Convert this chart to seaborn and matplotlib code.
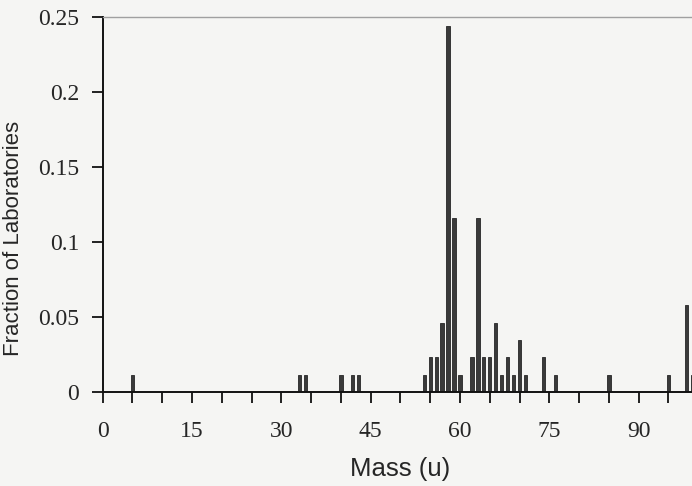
import numpy as np
import pandas as pd
import seaborn as sns
import matplotlib
matplotlib.use("Agg")
import matplotlib.pyplot as plt
from matplotlib.ticker import MultipleLocator, FormatStrFormatter

# mass (u) reported and fraction of laboratories reporting it
mass = [5, 33, 34, 40, 42, 43, 54, 55, 56, 57, 58, 59, 60, 62, 63, 64, 65,
        66, 67, 68, 69, 70, 71, 74, 76, 85, 95, 98, 99]
fraction = [0.0116, 0.0116, 0.0116, 0.0116, 0.0116, 0.0116, 0.0116, 0.0233,
            0.0233, 0.0465, 0.2442, 0.1163, 0.0116, 0.0233, 0.1163, 0.0233,
            0.0233, 0.0465, 0.0116, 0.0233, 0.0116, 0.0349, 0.0116, 0.0233,
            0.0116, 0.0116, 0.0116, 0.0581, 0.0116]

df = pd.DataFrame({"mass": mass, "fraction": fraction})

bg = "#f5f5f3"
sns.set_style("ticks")
plt.rcParams["font.family"] = ["Liberation Serif", "DejaVu Serif"]

fig = plt.figure(figsize=(6.92, 4.86), dpi=100, facecolor=bg)
ax = fig.add_axes([102.7 / 692, 1 - 392.3 / 486, (698.2 - 102.7) / 692, 375 / 486])
ax.set_facecolor(bg)

sns.barplot(data=df, x="mass", y="fraction", native_scale=True, width=0.55,
            color="#3a3a3a", edgecolor="#262626", linewidth=0.6, ax=ax)

ax.set_xlim(0, 100)
ax.set_ylim(0, 0.25)
ax.xaxis.set_major_locator(MultipleLocator(15))
ax.xaxis.set_minor_locator(MultipleLocator(5))
ax.yaxis.set_major_locator(MultipleLocator(0.05))
ax.yaxis.set_major_formatter(FormatStrFormatter("%g"))
ax.xaxis.set_major_formatter(FormatStrFormatter("%d"))

ax.tick_params(axis="both", which="both", direction="out", length=8, width=1.3,
               color="#111111", labelsize=17)
ax.tick_params(axis="x", which="both", pad=13)
ax.tick_params(axis="y", pad=9)

for s in ["left", "bottom"]:
    ax.spines[s].set_color("#111111")
    ax.spines[s].set_linewidth(1.4)
ax.spines["top"].set_color("#a0a0a0")
ax.spines["top"].set_linewidth(1.0)
ax.spines["right"].set_visible(False)

ax.set_xlabel("Mass (u)", family="Liberation Sans", fontsize=18.5)
ax.xaxis.set_label_coords(0.5, -0.172)
ax.set_ylabel("Fraction of Laboratories", family="Liberation Sans", fontsize=16)
ax.yaxis.set_label_coords(-0.132, 0.41)

fig.savefig("out.png", dpi=100, facecolor=bg)
